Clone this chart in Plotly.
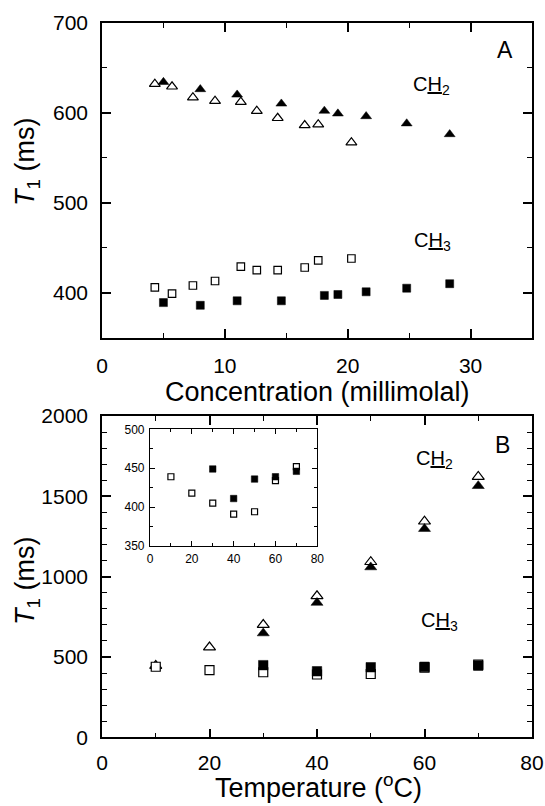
import plotly.graph_objects as go

FONT = "Arial, 'Liberation Sans', sans-serif"

# ---------------- Panel A data (concentration dependence) ----------------
conc_open = [4.3, 5.7, 7.4, 9.2, 11.3, 12.6, 14.3, 16.5, 17.6, 20.3]
ch2_open_A = [632, 629, 617, 613, 612, 602, 594, 586, 587, 567]
ch3_open_A = [406, 399, 408, 413, 429, 425, 425, 428, 436, 438]

conc_filled = [5.0, 8.0, 11.0, 14.6, 18.1, 19.2, 21.5, 24.8, 28.3]
ch2_filled_A = [634, 626, 620, 610, 602, 599, 596, 588, 576]
ch3_filled_A = [389, 386, 391, 391, 397, 398, 401, 405, 410]

# ---------------- Panel B data (temperature dependence) ----------------
temp_open = [10, 20, 30, 40, 50, 60, 70]
ch2_open_B = [445, 560, 700, 879, 1092, 1344, 1622]
ch3_open_B = [439, 418, 405, 391, 394, 434, 452]

temp_filled = [30, 40, 50, 60, 70]
ch2_filled_B = [648, 838, 1059, 1298, 1565]
ch3_filled_B = [449, 411, 436, 439, 446]

W, H = 545, 806


def px_x(p):
    return p / W


def px_y(p):
    return 1 - p / H


fig = go.Figure()


def add(x, y, symbol, filled, size, xa, ya):
    fig.add_trace(go.Scatter(
        x=x, y=y, mode="markers", xaxis=xa, yaxis=ya, showlegend=False,
        marker=dict(symbol=symbol, size=size,
                    color="black" if filled else "white",
                    line=dict(color="black", width=1.2 if not filled else 0.5)),
    ))


# Panel A
add(conc_open, ch2_open_A, "triangle-up", False, 9.5, "x", "y")
add(conc_open, ch3_open_A, "square", False, 7.5, "x", "y")
add(conc_filled, ch2_filled_A, "triangle-up", True, 9.5, "x", "y")
add(conc_filled, ch3_filled_A, "square", True, 8, "x", "y")

# Panel B
add(temp_open, ch2_open_B, "triangle-up", False, 10.5, "x2", "y2")
add(temp_open, ch3_open_B, "square", False, 9, "x2", "y2")
add(temp_filled, ch2_filled_B, "triangle-up", True, 10.5, "x2", "y2")
add(temp_filled, ch3_filled_B, "square", True, 9.5, "x2", "y2")

# Inset
add(temp_open, ch3_open_B, "square", False, 6, "x3", "y3")
add(temp_filled, ch3_filled_B, "square", True, 6.5, "x3", "y3")


def axis(domain, rng, dtick, minor, anchor, size=21, lw=1.6, tl=9, mtl=5, standoff=6):
    return dict(
        domain=domain, range=rng, dtick=dtick, tick0=0, anchor=anchor,
        automargin=False,
        showline=True, linecolor="black", linewidth=lw, mirror="ticks",
        ticks="inside", ticklen=tl, tickwidth=lw, tickcolor="black",
        showgrid=False, zeroline=False, fixedrange=True,
        tickfont=dict(family=FONT, size=size, color="black"),
        ticklabelstandoff=standoff,
        minor=dict(dtick=minor, ticks="inside", ticklen=mtl, tickwidth=lw * 0.8,
                   tickcolor="black", showgrid=False),
    )


xdom = [px_x(102), px_x(532)]
fig.update_layout(
    width=W, height=H,
    margin=dict(l=0, r=0, t=0, b=0, pad=0, autoexpand=False),
    paper_bgcolor="white", plot_bgcolor="white",
    xaxis=axis(xdom, [0, 35], 10, 5, "y", standoff=8),
    yaxis=axis([px_y(337.7), px_y(22.7)], [350, 700], 100, 50, "x", standoff=8),
    xaxis2=axis(xdom, [0, 80], 20, 10, "y2", standoff=6),
    yaxis2=axis([px_y(737.3), px_y(416)], [0, 2000], 500, 100, "x2", standoff=8),
    xaxis3=axis([px_x(150), px_x(317.3)], [0, 80], 20, 10, "y3", size=12,
                lw=1.2, tl=5, mtl=3, standoff=1),
    yaxis3=axis([px_y(546), px_y(429.3)], [350, 500], 50, 25, "x3", size=12,
                lw=1.2, tl=5, mtl=3, standoff=2),
)

ann = []


def text(x, y, t, size, xref="paper", yref="paper", angle=0):
    ann.append(dict(x=x, y=y, xref=xref, yref=yref, text=t, showarrow=False,
                    xanchor="center", yanchor="middle", textangle=angle,
                    font=dict(family=FONT, size=size, color="black")))


# axis titles
text(px_x(317), px_y(392), "Concentration (millimolal)", 27)
text(px_x(27), px_y(162), "<i>T</i><sub>1</sub> (ms)", 27, angle=-90)
text(px_x(318), px_y(786), "Temperature (<sup>o</sup>C)", 27)
text(px_x(27), px_y(581), "<i>T</i><sub>1</sub> (ms)", 27, angle=-90)

# panel labels
text(32.8, 670, "A", 23, "x", "y")
text(26.8, 630, "C<u>H</u><sub>2</sub>", 20, "x", "y")
text(26.9, 457, "C<u>H</u><sub>3</sub>", 20, "x", "y")
text(74.6, 1821, "B", 23, "x2", "y2")
text(61.8, 1730, "C<u>H</u><sub>2</sub>", 20, "x2", "y2")
text(62.8, 720, "C<u>H</u><sub>3</sub>", 20, "x2", "y2")

fig.update_layout(annotations=ann)

fig.write_html("out.html")
